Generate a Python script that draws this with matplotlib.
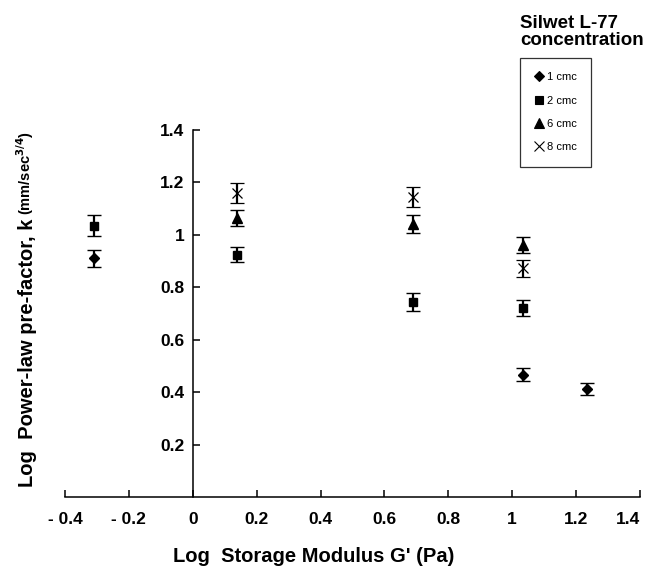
import numpy as np
import matplotlib.pyplot as plt
from matplotlib.lines import Line2D

# log G' (Pa) positions and log k values for each Silwet L-77 concentration
x_1cmc = [-0.31, 1.035, 1.235]
k_1cmc = [0.911, 0.467, 0.412]
e_1cmc = [0.033, 0.024, 0.023]

x_2cmc = [-0.31, 0.14, 0.69, 1.035]
k_2cmc = [1.035, 0.925, 0.743, 0.720]
e_2cmc = [0.040, 0.030, 0.034, 0.030]

x_6cmc = [0.14, 0.69, 1.035]
k_6cmc = [1.064, 1.042, 0.960]
e_6cmc = [0.030, 0.033, 0.030]

x_8cmc = [0.14, 0.69, 1.035]
k_8cmc = [1.158, 1.146, 0.872]
e_8cmc = [0.038, 0.038, 0.034]

labels = ["1 cmc", "2 cmc", "6 cmc", "8 cmc"]
xticks = [-0.4, -0.2, 0, 0.2, 0.4, 0.6, 0.8, 1, 1.2, 1.4]
xtick_labels = ["- 0.4", "- 0.2", "0", "0.2", "0.4", "0.6", "0.8", "1", "1.2", "1.4"]
yticks = [0.2, 0.4, 0.6, 0.8, 1, 1.2, 1.4]
ytick_labels = ["0.2", "0.4", "0.6", "0.8", "1", "1.2", "1.4"]

FONT = ["Liberation Sans", "DejaVu Sans"]
plt.rcParams["font.family"] = FONT

fig = plt.figure(figsize=(6.5, 5.73), dpi=100)
ax = fig.add_axes([0.1, 0.1326, 0.8846, 0.6405])

series = [
    (x_1cmc, k_1cmc, e_1cmc, "D", 5.5),
    (x_2cmc, k_2cmc, e_2cmc, "s", 6.0),
    (x_6cmc, k_6cmc, e_6cmc, "^", 7.0),
    (x_8cmc, k_8cmc, e_8cmc, "x", 7.0),
]
for xs, ys, es, m, ms in series:
    ax.errorbar(xs, ys, yerr=es, fmt=m, ms=ms, color="black", mec="black",
                mew=0.9 if m == "x" else 1.0, ecolor="black",
                elinewidth=1.6, capsize=4.8, capthick=1.6)

ax.set_xlim(-0.4, 1.4)
ax.set_ylim(0, 1.4)
for side in ["top", "right"]:
    ax.spines[side].set_visible(False)
ax.spines["left"].set_position(("data", 0))
ax.spines["bottom"].set_position(("data", 0))
for side in ["left", "bottom"]:
    ax.spines[side].set_linewidth(1.1)

ax.set_xticks(xticks)
ax.set_xticklabels(xtick_labels)
ax.set_yticks(yticks)
ax.set_yticklabels(ytick_labels)
ax.tick_params(axis="both", direction="in", length=5, width=1.1,
               labelsize=12.5)
ax.tick_params(axis="x", pad=11)
ax.tick_params(axis="y", pad=6)
for lbl in ax.get_xticklabels() + ax.get_yticklabels():
    lbl.set_fontweight("bold")
# keep the last x label inside the figure
ax.get_xticklabels()[-1].set_horizontalalignment("right")

# axis titles
fig.text(0.482, 0.028, "Log  Storage Modulus G' (Pa)", ha="center",
         va="center", fontsize=14.5, fontweight="bold")
ylab = fig.text(0.042, 0.150, "Log  Power-law pre-factor, k", rotation=90,
                ha="center", va="bottom", fontsize=14.5, fontweight="bold")
fig.canvas.draw()
bb = ylab.get_window_extent().transformed(fig.transFigure.inverted())
fig.text(0.039, bb.y1 + 0.006, r"(mm/sec$^{\mathbf{3/4}}$)", rotation=90,
         ha="center", va="bottom", fontsize=10.5, fontweight="bold")

# legend with its heading set above the box
handles = [Line2D([], [], ls="none", marker=m, ms=ms, color="black",
                  mew=0.8) for _, _, _, m, ms in series]
leg = fig.legend(handles, labels, loc="upper left",
                 bbox_to_anchor=(0.8, 0.899), bbox_transform=fig.transFigure,
                 frameon=True, fancybox=False,
                 handlelength=0.8, handletextpad=0.3, labelspacing=1.2,
                 borderpad=1.3, borderaxespad=0,
                 prop={"size": 8})
leg.get_frame().set_edgecolor("black")
leg.get_frame().set_linewidth(0.9)
fig.text(0.8, 0.973, "Silwet L-77\nconcentration", ha="left", va="top",
         fontsize=13.5, fontweight="bold", linespacing=1.0)

fig.savefig("out.png", dpi=100)
